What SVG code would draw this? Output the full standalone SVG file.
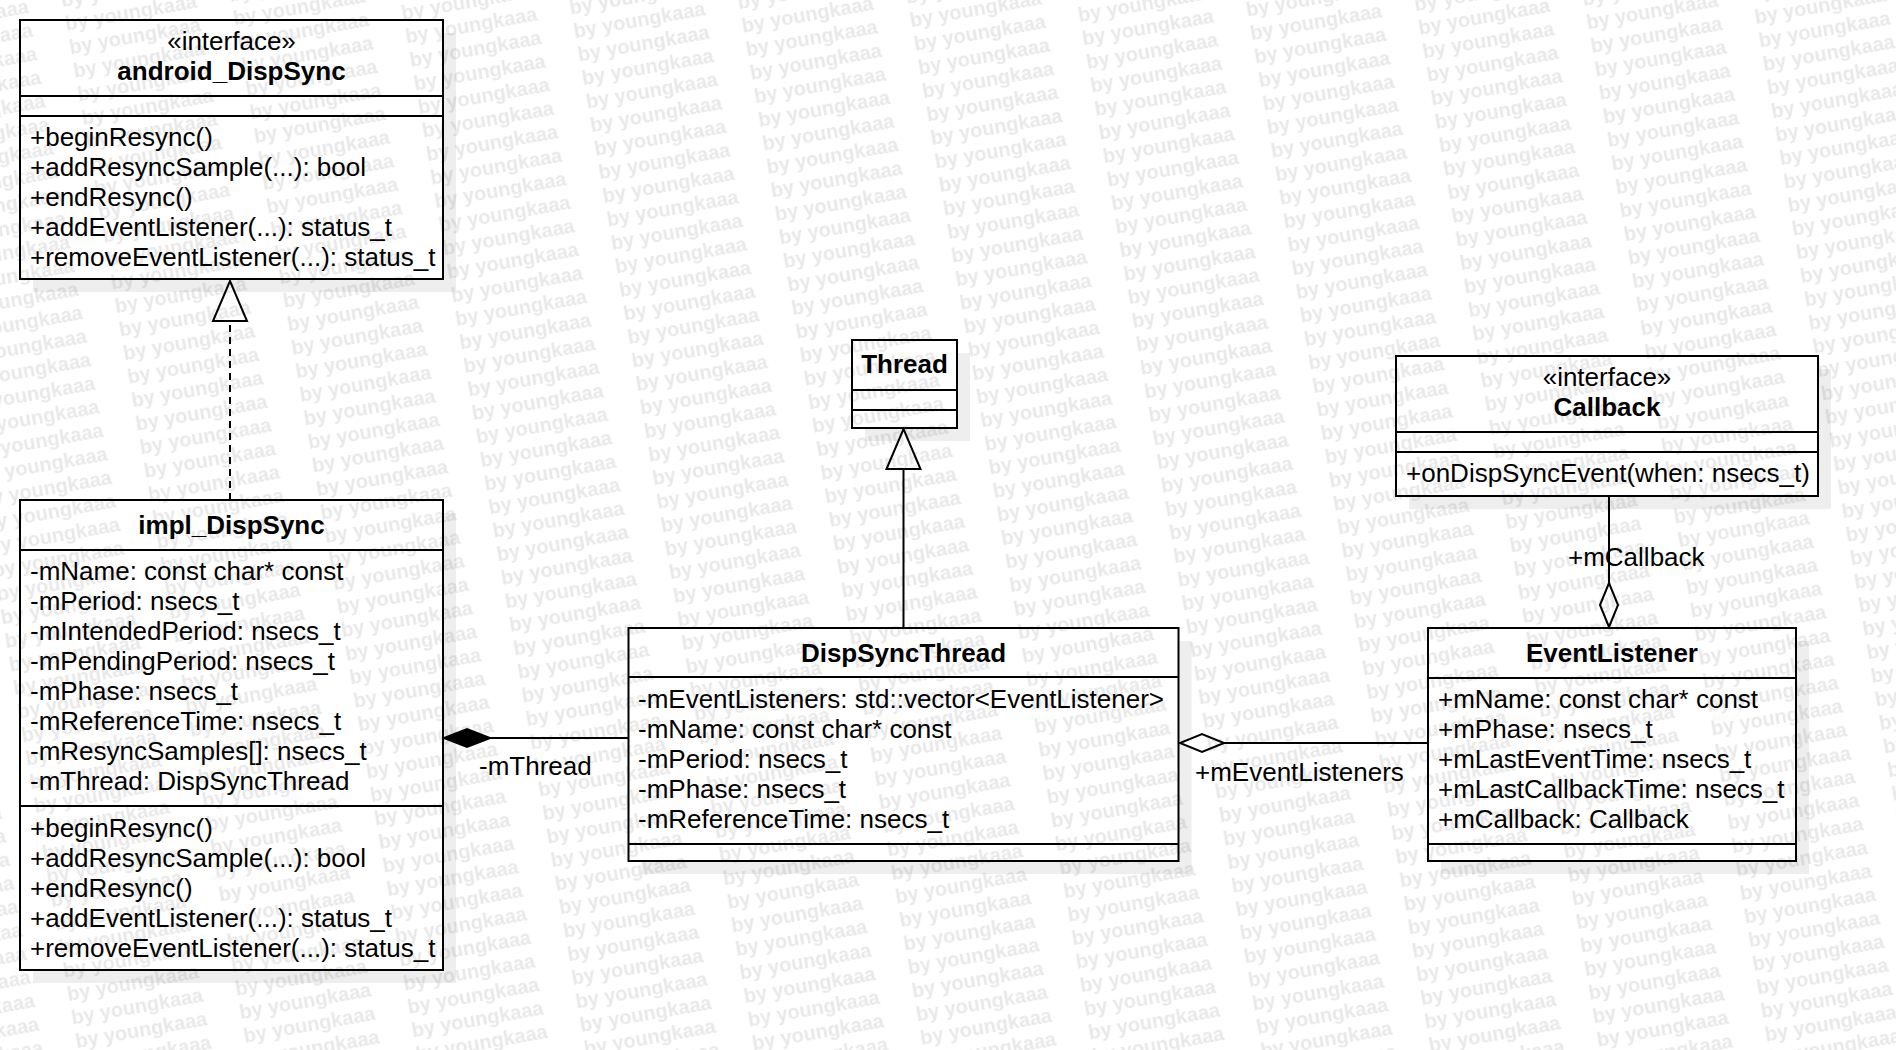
<svg xmlns="http://www.w3.org/2000/svg" width="1896" height="1050" viewBox="0 0 1896 1050">
<defs>
<style>
text { font-family: "Liberation Sans", Arial, sans-serif; font-size: 26px; fill: #000; }
.t { font-weight: bold; text-anchor: middle; }
.s { text-anchor: middle; }
.box { fill: #fff; stroke: #000; stroke-width: 2; }
.sh { fill: #eeeeee; }
.dv { stroke: #000; stroke-width: 2; }
.edge { fill: none; stroke: #000; stroke-width: 2; }
.dash { stroke-dasharray: 7 5; }
.wm { font-size: 20px; font-weight: bold; fill: #000; fill-opacity: 0.09; }
</style>
<marker id="tri" markerUnits="userSpaceOnUse" markerWidth="44" markerHeight="40" refX="41" refY="19" orient="auto" overflow="visible">
<path d="M1,2 L41,19 L1,36 Z" fill="#fff" stroke="#000" stroke-width="2" stroke-dasharray="none"/>
</marker>
<marker id="dfill" markerUnits="userSpaceOnUse" markerWidth="48" markerHeight="20" refX="46" refY="9" orient="auto" overflow="visible">
<path d="M0,9 L23,0 L46,9 L23,18 Z" fill="#000" stroke="#000" stroke-width="2"/>
</marker>
<marker id="dhollow" markerUnits="userSpaceOnUse" markerWidth="46" markerHeight="20" refX="44" refY="9" orient="auto" overflow="visible">
<path d="M0,9 L22,0 L44,9 L22,18 Z" fill="#fff" stroke="#000" stroke-width="2"/>
</marker>
<pattern id="wm" patternUnits="userSpaceOnUse" width="166.5" height="23.9" patternTransform="rotate(-10)">
<text class="wm" x="60" y="17.8">by youngkaaa</text>
<text class="wm" x="-106.5" y="17.8">by youngkaaa</text>
</pattern>
</defs>
<rect width="1896" height="1050" fill="#fff"/>

<g id="android_DispSync">
<rect class="sh" x="33" y="33" width="423" height="259"/>
<rect class="box" x="20" y="20" width="423" height="259"/>
<line class="dv" x1="20" y1="96" x2="443" y2="96"/>
<line class="dv" x1="20" y1="116" x2="443" y2="116"/>
<text class="s" x="231.5" y="50">«interface»</text>
<text class="t" x="231.5" y="80">android_DispSync</text>
<text x="30" y="146">+beginResync()</text>
<text x="30" y="176">+addResyncSample(...): bool</text>
<text x="30" y="206">+endResync()</text>
<text x="30" y="236">+addEventListener(...): status_t</text>
<text x="30" y="266">+removeEventListener(...): status_t</text>
</g>

<g id="impl_DispSync">
<rect class="sh" x="33" y="513" width="423" height="470"/>
<rect class="box" x="20" y="500" width="423" height="470"/>
<line class="dv" x1="20" y1="550" x2="443" y2="550"/>
<line class="dv" x1="20" y1="806" x2="443" y2="806"/>
<text class="t" x="231.5" y="534">impl_DispSync</text>
<text x="30" y="580">-mName: const char* const</text>
<text x="30" y="610">-mPeriod: nsecs_t</text>
<text x="30" y="640">-mIntendedPeriod: nsecs_t</text>
<text x="30" y="670">-mPendingPeriod: nsecs_t</text>
<text x="30" y="700">-mPhase: nsecs_t</text>
<text x="30" y="730">-mReferenceTime: nsecs_t</text>
<text x="30" y="760">-mResyncSamples[]: nsecs_t</text>
<text x="30" y="790">-mThread: DispSyncThread</text>
<text x="30" y="837">+beginResync()</text>
<text x="30" y="867">+addResyncSample(...): bool</text>
<text x="30" y="897">+endResync()</text>
<text x="30" y="927">+addEventListener(...): status_t</text>
<text x="30" y="957">+removeEventListener(...): status_t</text>
</g>

<g id="Thread">
<rect class="sh" x="865" y="353" width="105" height="88"/>
<rect class="box" x="852" y="340" width="105" height="88"/>
<line class="dv" x1="852" y1="390" x2="957" y2="390"/>
<line class="dv" x1="852" y1="410" x2="957" y2="410"/>
<text class="t" x="904.5" y="373">Thread</text>
</g>

<g id="DispSyncThread">
<rect class="sh" x="641.5" y="641" width="550" height="233"/>
<rect class="box" x="628.5" y="628" width="550" height="233"/>
<line class="dv" x1="628.5" y1="677" x2="1178.5" y2="677"/>
<line class="dv" x1="628.5" y1="844" x2="1178.5" y2="844"/>
<text class="t" x="903.5" y="662">DispSyncThread</text>
<text x="638" y="708">-mEventListeners: std::vector&lt;EventListener&gt;</text>
<text x="638" y="738">-mName: const char* const</text>
<text x="638" y="768">-mPeriod: nsecs_t</text>
<text x="638" y="798">-mPhase: nsecs_t</text>
<text x="638" y="828">-mReferenceTime: nsecs_t</text>
</g>

<g id="Callback">
<rect class="sh" x="1409" y="369" width="422" height="140"/>
<rect class="box" x="1396" y="356" width="422" height="140"/>
<line class="dv" x1="1396" y1="432" x2="1818" y2="432"/>
<line class="dv" x1="1396" y1="452" x2="1818" y2="452"/>
<text class="s" x="1607" y="386">«interface»</text>
<text class="t" x="1607" y="416">Callback</text>
<text x="1406" y="482">+onDispSyncEvent(when: nsecs_t)</text>
</g>

<g id="EventListener">
<rect class="sh" x="1441" y="641" width="368" height="233"/>
<rect class="box" x="1428" y="628" width="368" height="233"/>
<line class="dv" x1="1428" y1="678" x2="1796" y2="678"/>
<line class="dv" x1="1428" y1="844" x2="1796" y2="844"/>
<text class="t" x="1612" y="662">EventListener</text>
<text x="1438" y="708">+mName: const char* const</text>
<text x="1438" y="738">+mPhase: nsecs_t</text>
<text x="1438" y="768">+mLastEventTime: nsecs_t</text>
<text x="1438" y="798">+mLastCallbackTime: nsecs_t</text>
<text x="1438" y="828">+mCallback: Callback</text>
</g>

<g id="connectors">
<path class="edge dash" d="M230,500 L230,281" marker-end="url(#tri)"/>
<path class="edge" d="M903.5,628 L903.5,429" marker-end="url(#tri)"/>
<path class="edge" d="M628,738 L444,738" marker-end="url(#dfill)"/>
<text x="479" y="775">-mThread</text>
<path class="edge" d="M1428,743 L1180,743" marker-end="url(#dhollow)"/>
<text x="1195" y="781">+mEventListeners</text>
<path class="edge" d="M1609,496 L1609,627" marker-end="url(#dhollow)"/>
<text x="1568" y="566">+mCallback</text>
</g>

<rect width="1896" height="1050" fill="url(#wm)" pointer-events="none"/>
</svg>
